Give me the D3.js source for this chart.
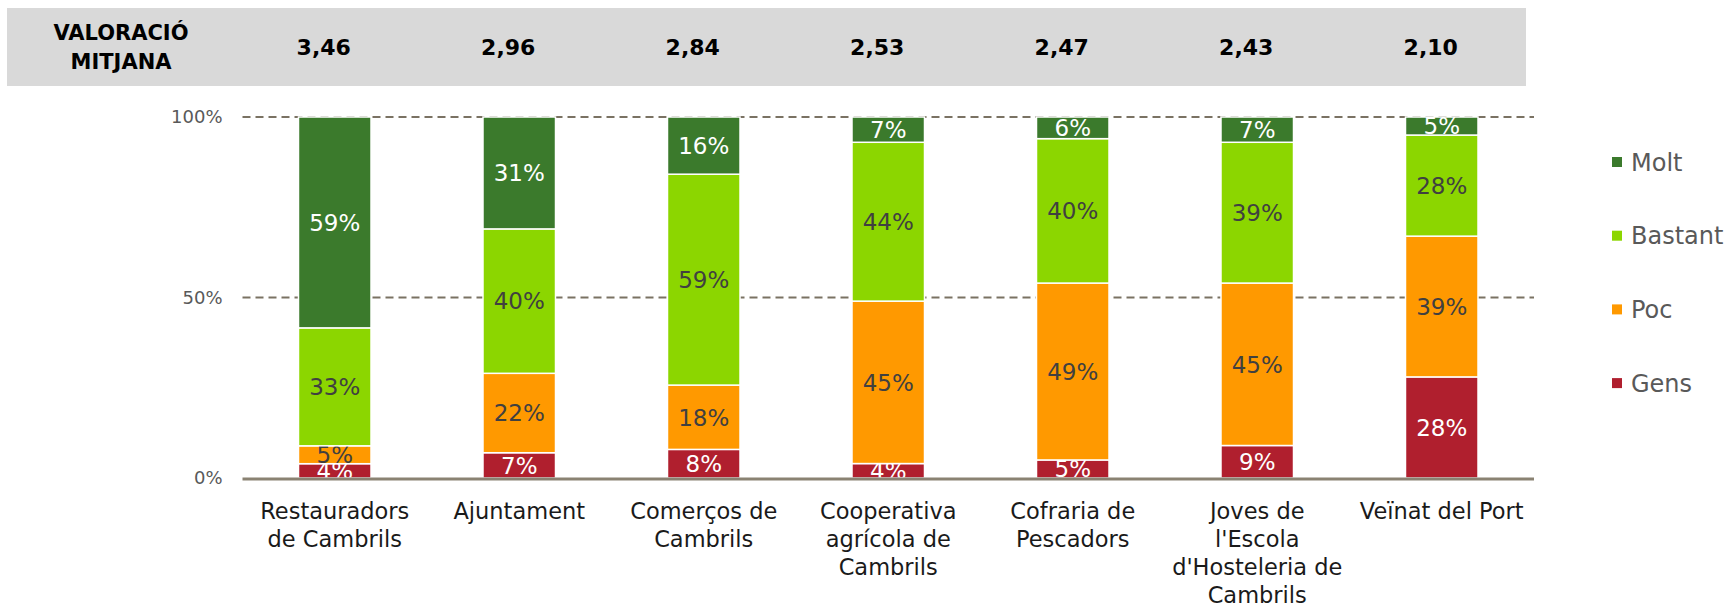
<!DOCTYPE html>
<html>
<head>
<meta charset="utf-8">
<script src="https://cdn.jsdelivr.net/npm/d3@7"></script>
<style>
  body { margin: 0; background: #fff; }
  svg text { font-family: "DejaVu Sans", sans-serif; }
</style>
</head>
<body>
<svg id="chart"></svg>
<script>
// dades
const categories = ["Restauradors de Cambrils", "Ajuntament", "Comerços de Cambrils",
    "Cooperativa agrícola de Cambrils", "Cofraria de Pescadors",
    "Joves de l'Escola d'Hosteleria de Cambrils", "Veïnat del Port"];
const categoryLines = [
    ["Restauradors", "de Cambrils"],
    ["Ajuntament"],
    ["Comerços de", "Cambrils"],
    ["Cooperativa", "agrícola de", "Cambrils"],
    ["Cofraria de", "Pescadors"],
    ["Joves de", "l'Escola", "d'Hosteleria de", "Cambrils"],
    ["Veïnat del Port"]
];
const mitjana = [3.46, 2.96, 2.84, 2.53, 2.47, 2.43, 2.10];
const series = ["Gens", "Poc", "Bastant", "Molt"];
const gens    = [4, 7, 8, 4, 5, 9, 28];
const poc     = [5, 22, 18, 45, 49, 45, 39];
const bastant = [33, 40, 59, 44, 40, 39, 28];
const molt    = [59, 31, 16, 7, 6, 7, 5];
const yTicks = [0, 0.5, 1];

const colors = { Gens: "#b01f2e", Poc: "#ff9900", Bastant: "#8cd600", Molt: "#3b7a2c" };
const labelColors = { Gens: "#ffffff", Poc: "#404040", Bastant: "#404040", Molt: "#ffffff" };

const width = 1724;
const height = 607;
const svg = d3.select("#chart").attr("width", width).attr("height", height);

let rows = categories.map((c, i) => ({
    cat: c, Gens: gens[i], Poc: poc[i], Bastant: bastant[i], Molt: molt[i]
}));

const stacked = d3.stack().keys(series).offset(d3.stackOffsetExpand)(rows);

const scX = d3.scaleBand()
    .domain(categories)
    .range([242.5, 1534])
    .paddingInner(0.607)
    .paddingOuter(0.3035);
const scY = d3.scaleLinear().domain([0, 1]).range([478, 117]);

// franja de valoració mitjana
svg.append("rect")
    .attr("x", 7).attr("y", 8)
    .attr("width", 1519).attr("height", 78)
    .attr("fill", "#d9d9d9");

svg.append("text")
    .attr("x", 121).attr("y", 40)
    .attr("text-anchor", "middle")
    .style("font-weight", "bold").style("font-size", "21px")
    .text("VALORACIÓ");
svg.append("text")
    .attr("x", 121).attr("y", 69)
    .attr("text-anchor", "middle")
    .style("font-weight", "bold").style("font-size", "21px")
    .text("MITJANA");

svg.selectAll(".mitjana")
    .data(mitjana)
    .enter()
    .append("text")
    .attr("class", "mitjana")
    .attr("x", (d, i) => scX(categories[i]) + scX.bandwidth() / 2 - 11)
    .attr("y", 47)
    .attr("dy", "0.35em")
    .attr("text-anchor", "middle")
    .style("font-weight", "bold").style("font-size", "22px")
    .text(d => d3.format(".2f")(d).replace(".", ","));

// línies de la graella
svg.selectAll(".grid")
    .data(yTicks.filter(t => t > 0))
    .enter()
    .append("line")
    .attr("x1", 242.5).attr("x2", 1534)
    .attr("y1", d => scY(d)).attr("y2", d => scY(d))
    .attr("stroke", "#7a7263")
    .attr("stroke-width", 2)
    .attr("stroke-dasharray", "8,5");

// eix Y
let axisY = d3.axisLeft(scY).tickValues(yTicks).tickFormat(d3.format(".0%")).tickSize(0).tickPadding(20);
let gY = svg.append("g").attr("transform", "translate(242.5,0)").call(axisY);
gY.select(".domain").remove();
gY.selectAll("text")
    .style("font-size", "18px")
    .style("font-family", "DejaVu Sans, sans-serif")
    .attr("fill", "#595959");

// barres
const groups = svg.selectAll(".serie")
    .data(stacked)
    .enter()
    .append("g")
    .attr("class", "serie");

groups.selectAll("rect")
    .data(d => d.map(p => ({ key: d.key, p: p })))
    .enter()
    .append("rect")
    .attr("x", d => scX(d.p.data.cat))
    .attr("y", d => scY(d.p[1]))
    .attr("width", scX.bandwidth())
    .attr("height", d => scY(d.p[0]) - scY(d.p[1]))
    .attr("fill", d => colors[d.key])
    .attr("stroke", "#ffffff")
    .attr("stroke-width", 1.5);

groups.selectAll("text")
    .data(d => d.map(p => ({ key: d.key, p: p })))
    .enter()
    .append("text")
    .attr("x", d => scX(d.p.data.cat) + scX.bandwidth() / 2)
    .attr("y", d => scY((d.p[0] + d.p[1]) / 2))
    .attr("dy", "0.36em")
    .attr("text-anchor", "middle")
    .style("font-size", "23px")
    .attr("fill", d => labelColors[d.key])
    .text(d => d.p.data[d.key] + "%");

// eix X
svg.append("line")
    .attr("x1", 242.5).attr("x2", 1534)
    .attr("y1", 479).attr("y2", 479)
    .attr("stroke", "#8a8272")
    .attr("stroke-width", 3);

let catText = svg.selectAll(".cat")
    .data(categories)
    .enter()
    .append("text")
    .attr("class", "cat")
    .attr("text-anchor", "middle")
    .style("font-size", "22.5px")
    .attr("fill", "#1a1a1a");

catText.each(function (c, i) {
    let t = d3.select(this);
    categoryLines[i].forEach((line, j) => {
        t.append("tspan")
            .attr("x", scX(c) + scX.bandwidth() / 2)
            .attr("y", 519 + j * 28)
            .text(line);
    });
});

// llegenda
const legendKeys = ["Molt", "Bastant", "Poc", "Gens"];
let legend = svg.selectAll(".legend")
    .data(legendKeys)
    .enter()
    .append("g")
    .attr("class", "legend")
    .attr("transform", (d, i) => `translate(1612, ${162 + i * 73.7})`);
legend.append("rect")
    .attr("x", 0).attr("y", -5)
    .attr("width", 10).attr("height", 10)
    .attr("fill", d => colors[d]);
legend.append("text")
    .attr("x", 19).attr("y", 0)
    .attr("dy", "0.36em")
    .style("font-size", "24px")
    .attr("fill", "#595959")
    .text(d => d);
</script>
</body>
</html>
